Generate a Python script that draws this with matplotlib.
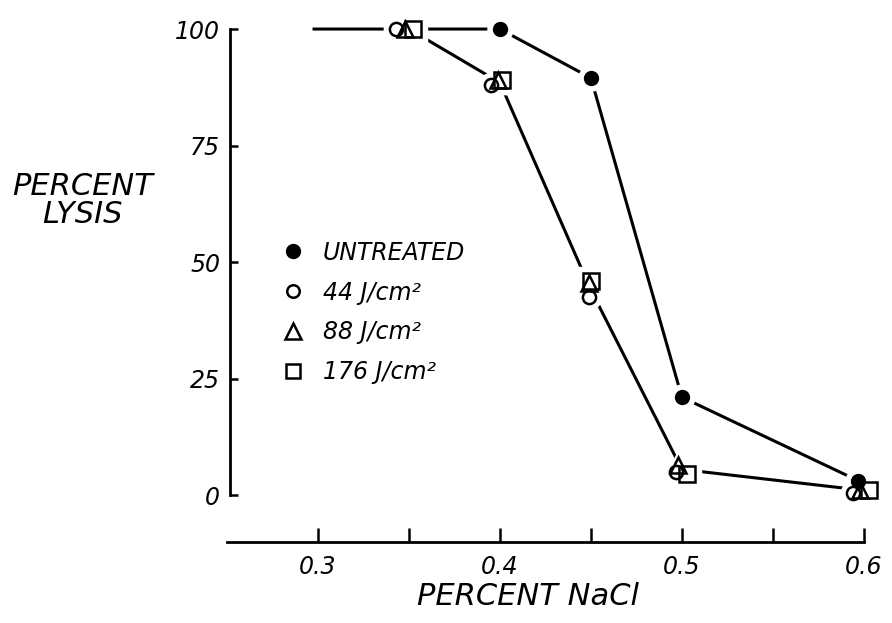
import numpy as np
import matplotlib
matplotlib.use("Agg")
import matplotlib.pyplot as plt
from matplotlib.lines import Line2D

# data
untreated_x = [0.40, 0.45, 0.50, 0.597]
untreated_y = [100, 89.5, 21, 3]
j44_x = [0.343, 0.395, 0.449, 0.497, 0.594]
j44_y = [100, 88, 42.5, 5, 0.5]
j88_x = [0.348, 0.399, 0.449, 0.498, 0.598]
j88_y = [100, 89, 45.5, 6.5, 1]
j176_x = [0.352, 0.401, 0.450, 0.503, 0.603]
j176_y = [100, 89, 46, 4.5, 1]
# hand-drawn connecting curves
curve_untr_x = [0.297, 0.35, 0.40, 0.45, 0.50, 0.60]
curve_untr_y = [100, 100, 100, 89.5, 21, 2.5]
curve_trt_x = [0.35, 0.40, 0.45, 0.50, 0.60]
curve_trt_y = [100, 88.5, 44, 5.5, 1]
xticks_major = [0.3, 0.4, 0.5, 0.6]
xticks_minor = [0.35, 0.45, 0.55]
yticks = [0, 25, 50, 75, 100]
legend_labels = ['UNTREATED', '44 J/cm²', '88 J/cm²', '176 J/cm²']

plt.rcParams['font.family'] = 'DejaVu Sans'
plt.rcParams['font.style'] = 'italic'

fig = plt.figure(figsize=(8.92, 6.23), dpi=100)
ax = fig.add_axes([0.2341, 0.1156, 0.7547, 0.8677])
ax.set_xlim(0.24, 0.61)
ax.set_ylim(-12, 104)

lw = 2.2
ax.plot(curve_untr_x, curve_untr_y, color='black', lw=lw, zorder=1, solid_capstyle='butt')
ax.plot(curve_trt_x, curve_trt_y, color='black', lw=lw, zorder=1, solid_capstyle='butt')

# white halos to give the gaps between lines and symbols
for xs, ys, m, ms in [(untreated_x, untreated_y, 'o', 10), (j44_x, j44_y, 'o', 9.5),
                      (j88_x, j88_y, '^', 12), (j176_x, j176_y, 's', 12)]:
    ax.plot(xs, ys, ls='none', marker=m, ms=ms + 8, color='white', zorder=2)

ax.plot(untreated_x, untreated_y, ls='none', marker='o', ms=10, color='black', zorder=4)
ax.plot(j44_x, j44_y, ls='none', marker='o', ms=9.5, mfc='none', mec='black', mew=1.8, zorder=3)
ax.plot(j88_x, j88_y, ls='none', marker='^', ms=12, mfc='none', mec='black', mew=1.8, zorder=3)
ax.plot(j176_x, j176_y, ls='none', marker='s', ms=12, mfc='none', mec='black', mew=1.8, zorder=3)

# spines
for s in ['top', 'right']:
    ax.spines[s].set_visible(False)
ax.spines['left'].set_position(('data', 0.2516))
ax.spines['left'].set_bounds(0, 100)
ax.spines['bottom'].set_position(('data', -10.1))
ax.spines['bottom'].set_bounds(0.25, 0.6)
ax.spines['left'].set_linewidth(2)
ax.spines['bottom'].set_linewidth(2)

ax.set_yticks(yticks)
ax.set_yticklabels([str(v) for v in yticks])
ax.set_xticks(xticks_major)
ax.set_xticklabels(['0.3', '0.4', '0.5', '0.6'])
ax.set_xticks(xticks_minor, minor=True)
ax.tick_params(axis='y', direction='in', length=6, width=1.8, pad=7, labelsize=17)
ax.tick_params(axis='x', which='both', direction='in', length=10, width=1.8, pad=9, labelsize=17)

ax.set_ylabel('PERCENT\nLYSIS', rotation=0, fontsize=22, ha='center', va='center',
              multialignment='center', linespacing=0.95)
ax.yaxis.set_label_coords(-0.187, 0.649)
ax.set_xlabel('PERCENT NaCl', fontsize=22, va='center')
ax.xaxis.set_label_coords(0.474, -0.085)

handles = [
    Line2D([], [], ls='none', marker='o', ms=10, color='black'),
    Line2D([], [], ls='none', marker='o', ms=9, mfc='none', mec='black', mew=1.8),
    Line2D([], [], ls='none', marker='^', ms=12, mfc='none', mec='black', mew=1.8),
    Line2D([], [], ls='none', marker='s', ms=10.5, mfc='none', mec='black', mew=1.8),
]
ax.legend(handles, legend_labels, loc='upper left', bbox_to_anchor=(0.107, 0.574),
          frameon=False, fontsize=17, handlelength=1.0, handletextpad=0.78,
          labelspacing=0.67, borderpad=0, borderaxespad=0)

fig.savefig('out.png', dpi=100)
